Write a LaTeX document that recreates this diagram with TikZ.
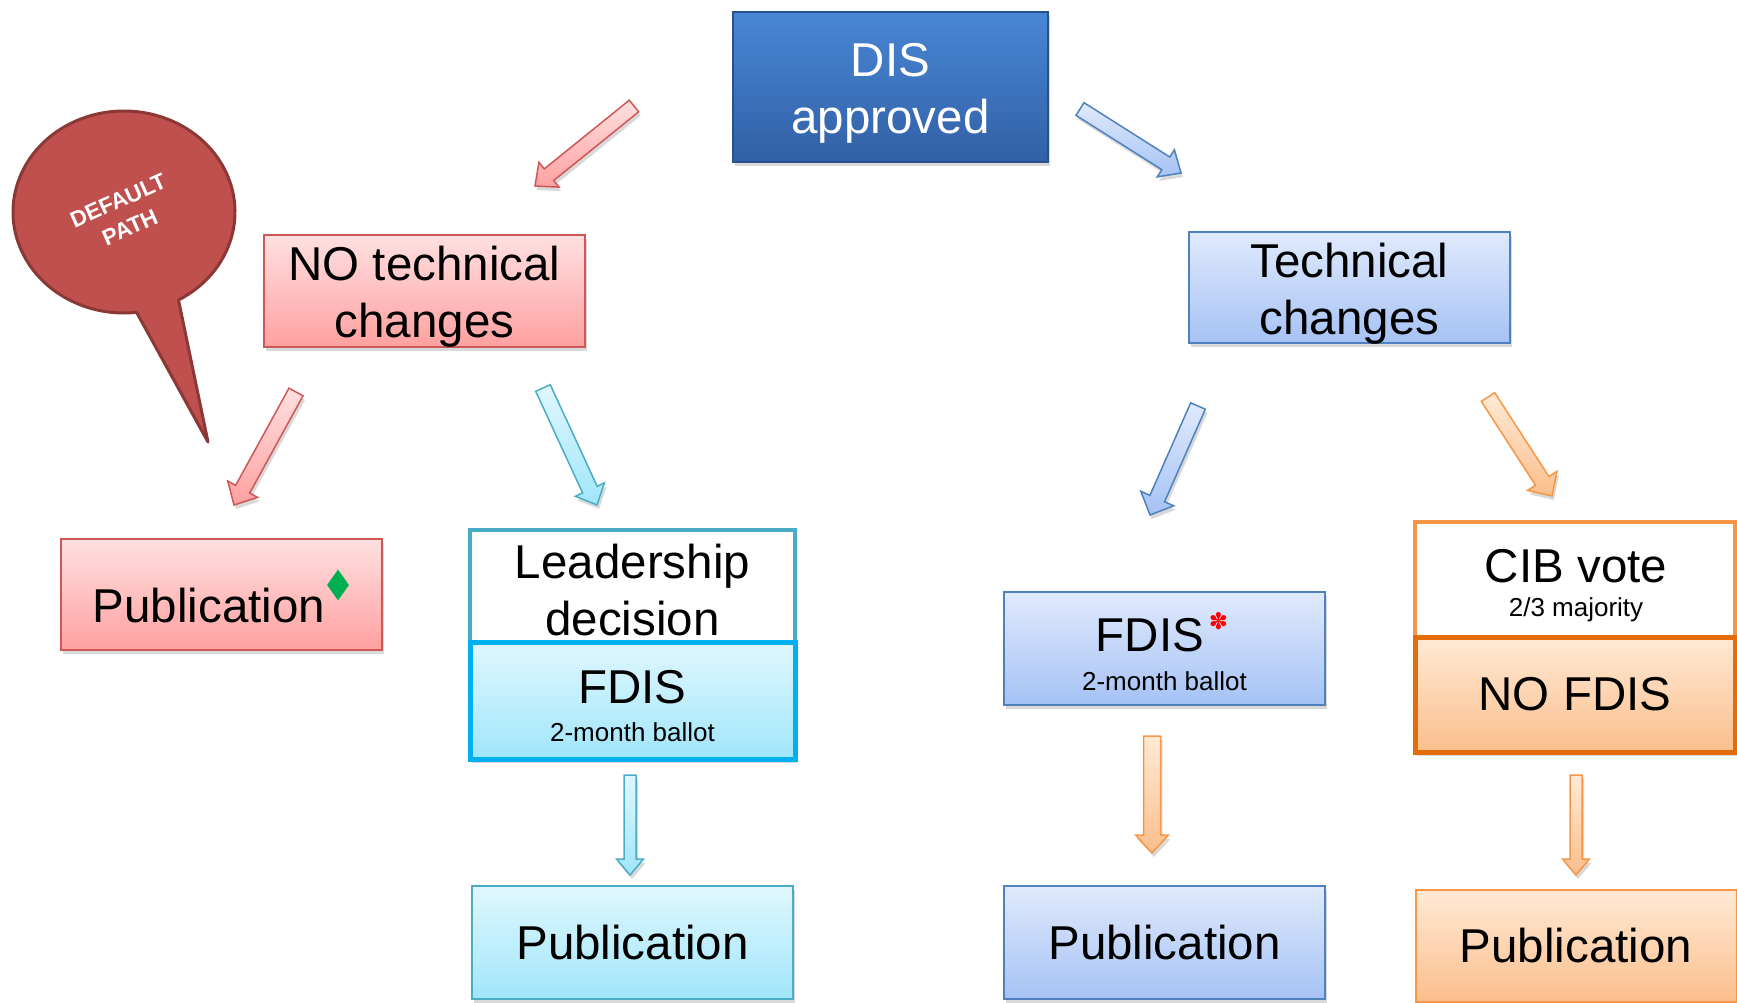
\documentclass[tikz,border=0pt]{standalone}
\usepackage{fontspec}
\setmainfont{Liberation Sans}
\newfontfamily\symfont{DejaVu Sans}
\usetikzlibrary{calc,shadows,shapes.geometric}

\definecolor{distop}{RGB}{72,134,212}
\definecolor{disbot}{RGB}{50,96,166}
\definecolor{disline}{RGB}{40,80,140}
\definecolor{redtop}{RGB}{255,224,224}
\definecolor{redbot}{RGB}{255,160,160}
\definecolor{redline}{RGB}{205,88,86}
\definecolor{bluetop}{RGB}{224,234,252}
\definecolor{bluebot}{RGB}{165,194,245}
\definecolor{blueline}{RGB}{79,129,189}
\definecolor{cyantop}{RGB}{224,247,254}
\definecolor{cyanbot}{RGB}{160,230,250}
\definecolor{cyanline}{RGB}{75,172,198}
\definecolor{fdiscyan}{RGB}{0,176,240}
\definecolor{orangetop}{RGB}{255,234,214}
\definecolor{orangebot}{RGB}{251,190,140}
\definecolor{orangeline}{RGB}{247,150,70}
\definecolor{nofdisline}{RGB}{228,108,10}
\definecolor{bubblefill}{RGB}{192,80,77}
\definecolor{bubbleline}{RGB}{140,56,54}
\definecolor{diagreen}{RGB}{0,176,80}

\tikzset{
  shadowed/.style={drop shadow={opacity=0.25, shadow xshift=2pt, shadow yshift=-4pt, fill=black!60}},
  basebox/.style={rectangle, inner sep=0pt, align=center, font=\fontsize{47.5}{57}\selectfont, line width=2pt, shadowed},
  disbox/.style={basebox, top color=distop, bottom color=disbot, draw=disline, text=white},
  redbox/.style={basebox, top color=redtop, bottom color=redbot, draw=redline},
  bluebox/.style={basebox, top color=bluetop, bottom color=bluebot, draw=blueline},
  cyanbox/.style={basebox, top color=cyantop, bottom color=cyanbot, draw=cyanline},
  orangebox/.style={basebox, top color=orangetop, bottom color=orangebot, draw=orangeline},
  whitebox/.style={basebox, fill=white},
  bigtxt/.style={font=\fontsize{47.5}{57}\selectfont, inner sep=0pt, align=center},
  smalltxt/.style={font=\fontsize{26}{31}\selectfont, inner sep=0pt},
  arrbase/.style={line width=1.5pt, line join=miter, shadowed},
  redarr/.style={arrbase, top color=redtop, bottom color=redbot, draw=redline},
  bluearr/.style={arrbase, top color=bluetop, bottom color=bluebot, draw=blueline},
  cyanarr/.style={arrbase, top color=cyantop, bottom color=cyanbot, draw=cyanline},
  orangearr/.style={arrbase, top color=orangetop, bottom color=orangebot, draw=orangeline},
}

% block arrow: #1 tail, #2 tip, #3 half shaft, #4 half head, #5 head length, #6 style
\newcommand\blockarr[6]{%
  \coordinate (ba-h) at ($(#2)!#5!(#1)$);
  \draw[#6] ($(#1)!#3!90:(#2)$) -- ($(ba-h)!#3!-90:(#1)$) -- ($(ba-h)!#4!-90:(#1)$)
    -- (#2) -- ($(ba-h)!#4!90:(#1)$) -- ($(ba-h)!#3!90:(#1)$) -- ($(#1)!#3!-90:(#2)$) -- cycle;
}

\begin{document}
\begin{tikzpicture}[x=1pt,y=-1pt]
\useasboundingbox (0,0) rectangle (1737,1002);

% speech bubble
\coordinate (bc) at (124,212);
\coordinate (btip) at (208,442);
\coordinate (brb) at ($(bc)+(-60.6:111pt and 101pt)$);
\draw[fill=bubblefill, draw=bubbleline, line width=3pt, line join=round]
  (btip) -- (brb) arc[start angle=-60.6, end angle=276.5, x radius=111pt, y radius=101pt] -- cycle;
\node[rotate=24, text=white, align=center, inner sep=0pt,
      font=\bfseries\fontsize{22.5}{29}\selectfont] (deftext) at (124,214) {DEFAULT\\PATH};

% top
\node[disbox, minimum width=315pt, minimum height=150pt] (dis) at (890.5,87) {};
\node[bigtxt, text=white] (dist) at ($(dis)+(0,6)$) {DIS\\approved};

% second row
\node[redbox, minimum width=321pt, minimum height=112pt] (notech) at (424.5,291) {};
\node[bigtxt] (notecht) at ($(notech)+(0,6)$) {NO technical\\changes};
\node[bluebox, minimum width=321pt, minimum height=111pt] (tech) at (1349.5,287.5) {};
\node[bigtxt] (techt) at ($(tech)+(0,6)$) {Technical\\changes};

% third row
\node[redbox, minimum width=321pt, minimum height=111pt] (pubL) at (221.5,594.5) {};
\node[bigtxt] (pubLt) at ($(pubL)+(-12.5,11)$) {Publication};
\node[diamond, fill=diagreen, inner sep=0pt, minimum width=22pt, minimum height=31pt] (dia) at (338,585) {};

\node[whitebox, draw=cyanline, line width=3.5pt, minimum width=325pt, minimum height=112pt] (lead) at (632.5,586) {};
\node[bigtxt] (leadt) at ($(lead)+(0,4)$) {Leadership\\decision};
\node[basebox, top color=cyantop, bottom color=cyanbot, draw=fdiscyan, line width=5pt,
      minimum width=325pt, minimum height=117pt] (fdisL) at (632.5,700.5) {};
\node[bigtxt] (fdisLt) at (632.5,687) {FDIS};
\node[smalltxt] (fdisLs) at (632.5,732) {2-month ballot};

\node[bluebox, minimum width=321pt, minimum height=113pt] (fdisR) at (1164.5,648.5) {};
\node[bigtxt] (fdisRt) at (1150,635) {FDIS};
\node[text=red, inner sep=0pt, font=\symfont\fontsize{23}{23}\selectfont] (ast) at (1218.5,621) {✽};
\node[smalltxt] (fdisRs) at (1164.5,681) {2-month ballot};

\node[whitebox, draw=orangeline, line width=3.5pt, minimum width=320pt, minimum height=115pt] (cib) at (1575,579.5) {};
\node[bigtxt] (cibt) at (1576,566) {CIB vote};
\node[smalltxt] (cibs) at (1576,610) {2/3 majority};
\node[basebox, top color=orangetop, bottom color=orangebot, draw=nofdisline, line width=5pt,
      minimum width=320pt, minimum height=115pt] (nofdis) at (1575,694.5) {NO FDIS};

% bottom row
\node[cyanbox, minimum width=321pt, minimum height=113pt] (pubC) at (632.5,942.5) {Publication};
\node[bluebox, minimum width=321pt, minimum height=113pt] (pubB) at (1164.5,942.5) {Publication};
\node[orangebox, minimum width=321pt, minimum height=112pt] (pubO) at (1576,946) {Publication};

% arrows
\coordinate (a1s) at (634,106);  \coordinate (a1e) at (535,186);
\coordinate (a2s) at (1080,109); \coordinate (a2e) at (1181,173);
\coordinate (a3s) at (296,392);  \coordinate (a3e) at (234,505);
\coordinate (a4s) at (543,388);  \coordinate (a4e) at (597,505);
\coordinate (a5s) at (1198,406); \coordinate (a5e) at (1150,515);
\coordinate (a6s) at (1488,397); \coordinate (a6e) at (1552,496);
\coordinate (a7s) at (630,775);  \coordinate (a7e) at (630,875);
\coordinate (a8s) at (1152,736); \coordinate (a8e) at (1152,853);
\coordinate (a9s) at (1576,775); \coordinate (a9e) at (1576,875);

\blockarr{a1s}{a1e}{7.5pt}{16pt}{18pt}{redarr}
\blockarr{a2s}{a2e}{7.5pt}{16pt}{18pt}{bluearr}
\blockarr{a3s}{a3e}{8pt}{17pt}{18pt}{redarr}
\blockarr{a4s}{a4e}{8pt}{16pt}{17pt}{cyanarr}
\blockarr{a5s}{a5e}{8pt}{18pt}{18pt}{bluearr}
\blockarr{a6s}{a6e}{8pt}{17.5pt}{18pt}{orangearr}
\blockarr{a7s}{a7e}{6pt}{13.5pt}{16pt}{cyanarr}
\blockarr{a8s}{a8e}{8.5pt}{16.5pt}{18pt}{orangearr}
\blockarr{a9s}{a9e}{6pt}{13.5pt}{16pt}{orangearr}
\end{tikzpicture}
\end{document}
